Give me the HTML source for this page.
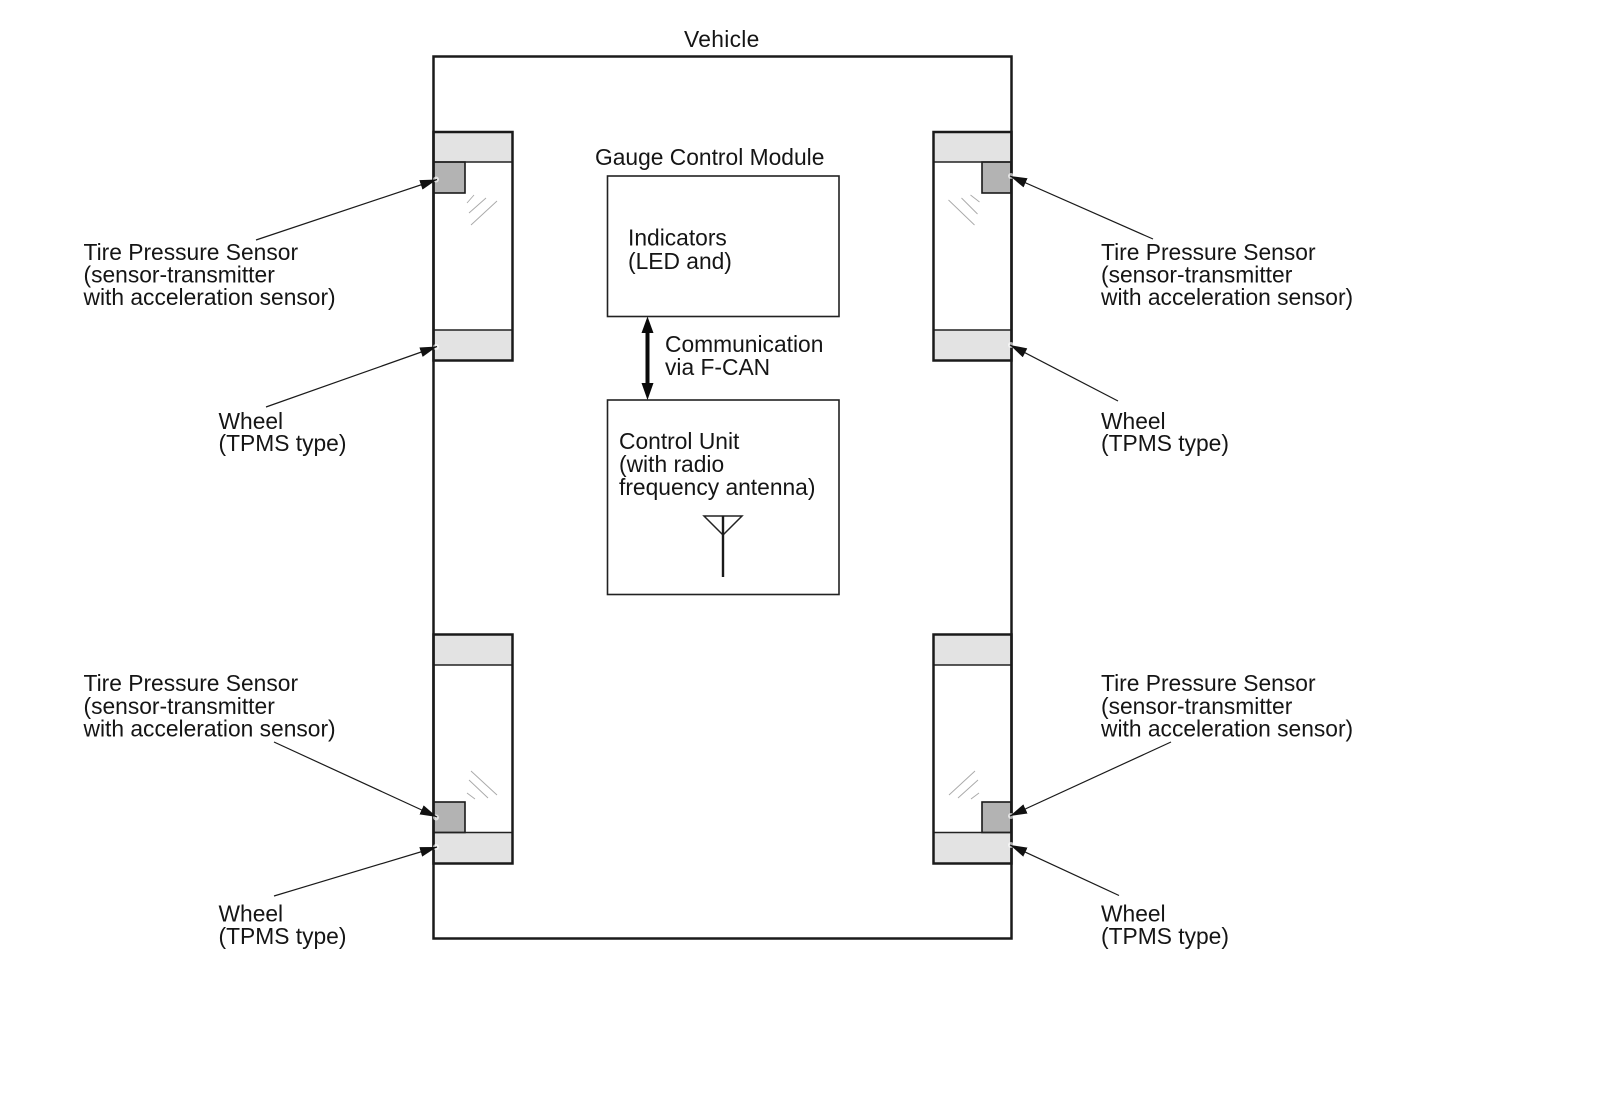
<!DOCTYPE html>
<html><head><meta charset="utf-8"><title>TPMS diagram</title>
<style>
html,body{margin:0;padding:0;background:#fff}
svg{display:block}
text{font-family:"Liberation Sans",Arial,sans-serif;font-size:22.8px;fill:#151515}
.thick{fill:none;stroke:#1a1a1a;stroke-width:2.5}
.thin{fill:none;stroke:#222;stroke-width:1.6}
.band{fill:#e3e3e3;stroke:none}
.sens{fill:#b3b3b3;stroke:#1a1a1a;stroke-width:1.6}
.hash{stroke:#a8a8a8;stroke-width:.9;fill:none}
.lead{stroke:#1a1a1a;stroke-width:1.2;fill:none}
.glow{fill:#fff;opacity:.65}
</style></head><body>
<svg width="1600" height="1104" viewBox="0 0 1600 1104" xmlns="http://www.w3.org/2000/svg">
<defs>
<marker id="h" markerUnits="userSpaceOnUse" markerWidth="18" markerHeight="12" refX="17" refY="5" orient="auto">
<path d="M0 0L17 5L0 10Z" fill="#111"/>
</marker>
</defs>
<rect width="1600" height="1104" fill="#fff"/>

<!-- wheel bands -->
<rect class="band" x="433" y="132" width="79" height="30"/>
<rect class="band" x="433" y="330" width="79" height="30"/>
<rect class="band" x="934" y="132" width="78" height="30"/>
<rect class="band" x="934" y="330" width="78" height="30"/>
<rect class="band" x="433" y="635" width="79" height="30"/>
<rect class="band" x="433" y="832" width="79" height="31"/>
<rect class="band" x="934" y="635" width="78" height="30"/>
<rect class="band" x="934" y="832" width="78" height="31"/>

<!-- sensors -->
<rect class="sens" x="433.5" y="162" width="31.5" height="31"/>
<rect class="sens" x="982" y="162" width="29" height="31"/>
<rect class="sens" x="433.5" y="802" width="31.5" height="30.5"/>
<rect class="sens" x="982" y="802" width="29" height="30.5"/>

<!-- band separators -->
<path class="thin" d="M433 162H512M433 330H512M934 162H1012M934 330H1012M433 665H512M433 832.5H512M934 665H1012M934 832.5H1012"/>

<!-- wheels -->
<rect class="thick" x="433.5" y="132" width="79" height="228.5"/>
<rect class="thick" x="933.5" y="132" width="78" height="228.5"/>
<rect class="thick" x="433.5" y="634.5" width="79" height="229"/>
<rect class="thick" x="933.5" y="634.5" width="78" height="229"/>

<!-- vehicle -->
<rect class="thick" x="433.5" y="56.5" width="578" height="882"/>

<!-- boxes -->
<rect class="thin" x="607.5" y="176" width="231.5" height="140.5"/>
<rect class="thin" x="607.5" y="400" width="231.5" height="194.5"/>

<!-- hatch marks -->
<path class="hash" d="M474 195L467 203M486 198L469 213M497 201L471 225"/>
<path class="hash" d="M948.5 200L974.5 225M961.5 198L977.5 214M970.5 195L979.5 202"/>
<path class="hash" d="M471 771L497 795M469 780L488 798M467 793L475 799"/>
<path class="hash" d="M975 771L949 795M978 780L958 798M979 793L971 799"/>

<!-- FCAN arrow -->
<path d="M647.5 316.5L653.5 333H649.5V383H653.5L647.5 400L641.5 383H645.5V333H641.5Z" fill="#0a0a0a"/>

<!-- antenna -->
<path d="M704 516H742L723 535Z" fill="none" stroke="#222" stroke-width="1.5"/>
<path d="M723 515.5V577" stroke="#1a1a1a" stroke-width="2.4" fill="none"/>

<!-- leaders -->
<circle class="glow" cx="436" cy="179.5" r="3"/>
<circle class="glow" cx="436" cy="347" r="3"/>
<circle class="glow" cx="1011" cy="176" r="3"/>
<circle class="glow" cx="1011" cy="345" r="3"/>
<circle class="glow" cx="436" cy="817.5" r="3"/>
<circle class="glow" cx="436" cy="847" r="3"/>
<circle class="glow" cx="1011" cy="816" r="3"/>
<circle class="glow" cx="1011" cy="845" r="3"/>

<path class="lead" d="M256 240L437 179.5" marker-end="url(#h)"/>
<path class="lead" d="M266 407L437 346.5" marker-end="url(#h)"/>
<path class="lead" d="M1153 239L1010 176" marker-end="url(#h)"/>
<path class="lead" d="M1118 401L1010 345" marker-end="url(#h)"/>
<path class="lead" d="M274 742L437 817" marker-end="url(#h)"/>
<path class="lead" d="M274 896L437 847" marker-end="url(#h)"/>
<path class="lead" d="M1171 742L1010 816" marker-end="url(#h)"/>
<path class="lead" d="M1119 895.5L1010 845" marker-end="url(#h)"/>

<!-- labels -->
<text x="684" y="47" letter-spacing=".3">Vehicle</text>
<text x="595" y="165">Gauge Control Module</text>
<text x="628" y="245.5">Indicators</text>
<text x="628" y="269">(LED and)</text>
<text x="665" y="352">Communication</text>
<text x="665" y="375">via F-CAN</text>
<text x="619" y="449">Control Unit</text>
<text x="619" y="472">(with radio</text>
<text x="619" y="495">frequency antenna)</text>

<text x="83.5" y="260">Tire Pressure Sensor</text>
<text x="83.5" y="282.5">(sensor-transmitter</text>
<text x="83.5" y="305">with acceleration sensor)</text>
<text x="218.5" y="429">Wheel</text>
<text x="218.5" y="451">(TPMS type)</text>

<text x="1101" y="260">Tire Pressure Sensor</text>
<text x="1101" y="282.5">(sensor-transmitter</text>
<text x="1101" y="305">with acceleration sensor)</text>
<text x="1101" y="429">Wheel</text>
<text x="1101" y="451">(TPMS type)</text>

<text x="83.5" y="691">Tire Pressure Sensor</text>
<text x="83.5" y="714">(sensor-transmitter</text>
<text x="83.5" y="736.5">with acceleration sensor)</text>
<text x="218.5" y="921.5">Wheel</text>
<text x="218.5" y="944">(TPMS type)</text>

<text x="1101" y="691">Tire Pressure Sensor</text>
<text x="1101" y="714">(sensor-transmitter</text>
<text x="1101" y="736.5">with acceleration sensor)</text>
<text x="1101" y="921.5">Wheel</text>
<text x="1101" y="944">(TPMS type)</text>
</svg>
</body></html>
